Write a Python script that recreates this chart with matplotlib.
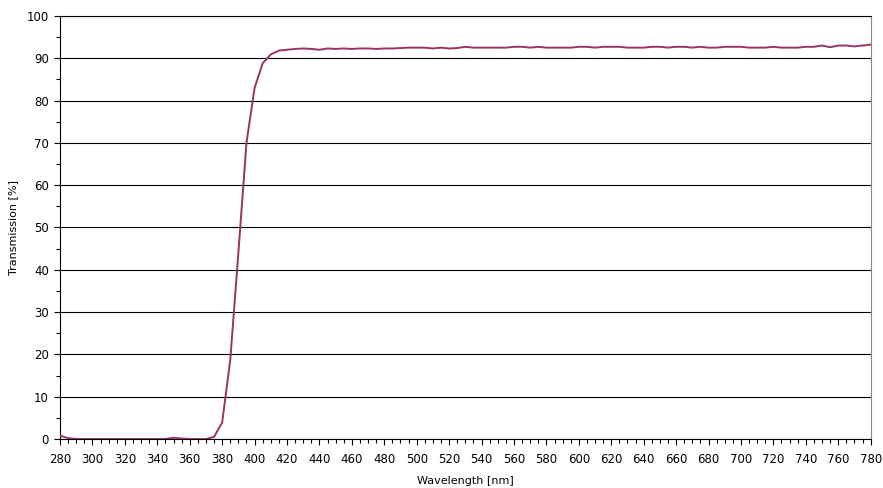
import numpy as np
import matplotlib
matplotlib.use("Agg")
import matplotlib.pyplot as plt
from matplotlib.ticker import MultipleLocator

# wavelength sampled every 5 nm
wavelength = list(range(280, 785, 5))
transmission = [
    0.8, 0.2, 0.0, 0.0, 0.0, 0.0, 0.0, 0.0, 0.0, 0.0,   # 280-325
    0.0, 0.0, 0.0, 0.0, 0.3, 0.1, 0.0, 0.0, 0.0, 0.5,   # 330-375
    3.9, 18.7, 44.0, 70.0, 83.0, 88.8, 90.9, 91.8, 92.0, 92.2,   # 380-425
    92.3, 92.2, 92.0, 92.3, 92.2, 92.3, 92.2, 92.3, 92.3, 92.2,   # 430-475
    92.3, 92.3, 92.4, 92.5, 92.5, 92.5, 92.3, 92.5, 92.3, 92.4,   # 480-525
    92.7, 92.5, 92.5, 92.5, 92.5, 92.5, 92.7, 92.7, 92.5, 92.7,   # 530-575
    92.5, 92.5, 92.5, 92.5, 92.7, 92.7, 92.5, 92.7, 92.7, 92.7,   # 580-625
    92.5, 92.5, 92.5, 92.7, 92.7, 92.5, 92.7, 92.7, 92.5, 92.7,   # 630-675
    92.5, 92.5, 92.7, 92.7, 92.7, 92.5, 92.5, 92.5, 92.7, 92.5,   # 680-725
    92.5, 92.5, 92.7, 92.7, 93.0, 92.6, 93.0, 93.0, 92.8, 93.0,   # 730-775
    93.2,                                                         # 780
]

plt.rcParams["font.family"] = ["DejaVu Sans"]

fig = plt.figure(figsize=(8.83, 4.88), dpi=100)
ax = fig.add_axes([0.068, 0.1004, 0.918, 0.867])

ax.plot(wavelength, transmission, color="#993366", lw=1.4, zorder=3)

ax.set_xlim(280, 780)
ax.set_ylim(0, 100)
ax.xaxis.set_major_locator(MultipleLocator(20))
ax.xaxis.set_minor_locator(MultipleLocator(5))
ax.yaxis.set_major_locator(MultipleLocator(10))
ax.yaxis.set_minor_locator(MultipleLocator(5))

ax.grid(axis="y", which="major", color="black", lw=0.8)
ax.tick_params(which="major", length=4, width=0.8, labelsize=8.5, pad=4)
ax.tick_params(axis="x", which="major", pad=6)
ax.tick_params(which="minor", length=3, width=0.8)

for s in ["left", "bottom"]:
    ax.spines[s].set_color("black")
    ax.spines[s].set_linewidth(0.8)
ax.spines["right"].set_color("#888888")
ax.spines["right"].set_linewidth(0.8)
ax.spines["top"].set_color("black")
ax.spines["top"].set_linewidth(0.8)

ax.set_xlabel("Wavelength [nm]", fontsize=8, labelpad=7)
ax.set_ylabel("Transmission [%]", fontsize=8, labelpad=6)

fig.savefig("out.png", dpi=100)
